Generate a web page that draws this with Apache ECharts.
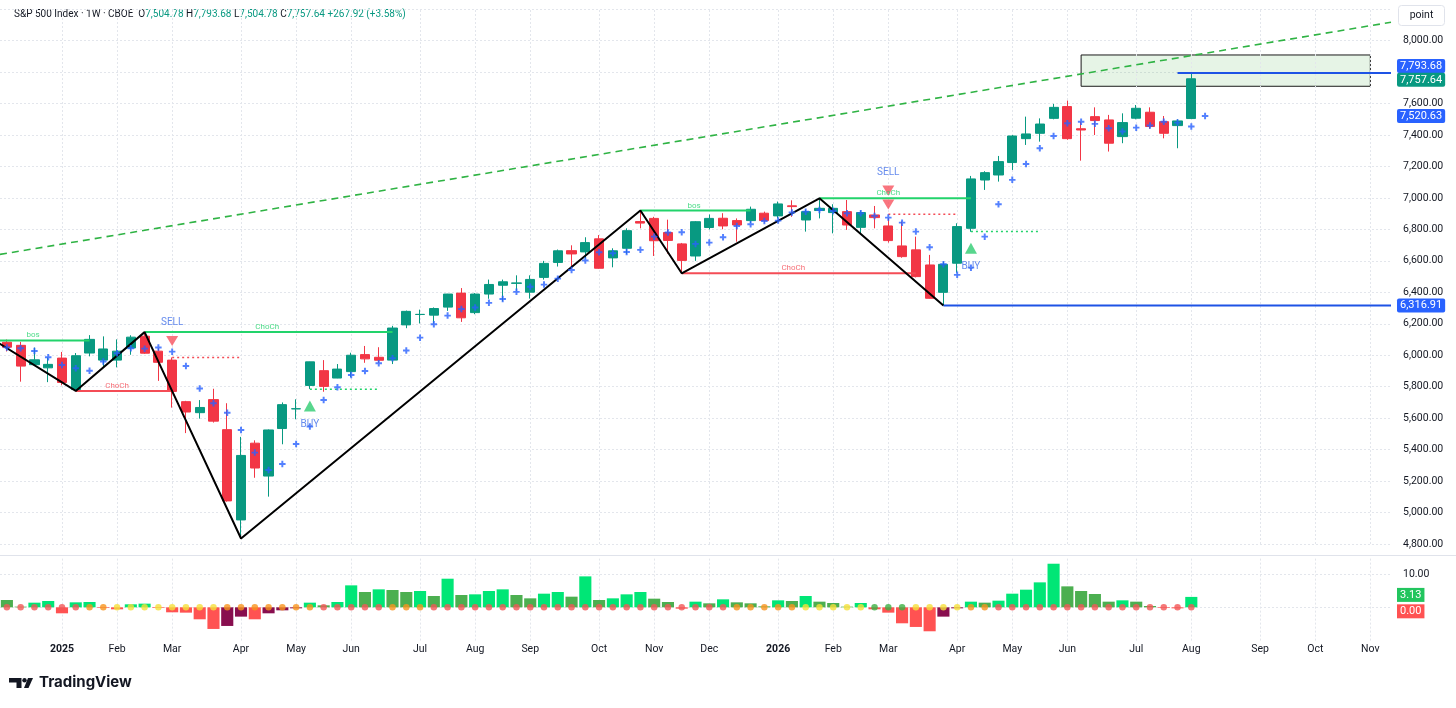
<!DOCTYPE html>
<html>
<head>
<meta charset="UTF-8">
<title>S&P 500 Index 1W</title>
<script src="https://cdn.jsdelivr.net/npm/echarts@6/dist/echarts.min.js"></script>
<style>
html, body { margin: 0; padding: 0; background: #fff; }
#chart { width: 1456px; height: 708px; }
</style>
</head>
<body>
<div id="chart"></div>
<script>
// weekly bars, first bar is the week of 2024-12-09
var firstWeek = Date.UTC(2024, 11, 9);
var weekCount = 101;

var opens = [6083,6063,5940,5920,5982,5782,6014,5969,5969,6046,
  6121,6026,5969,5705,5635,5718,5527,4953,5441,5232,
  5534,5659,5808,5902,5855,5896,6004,5987,5969,6193,
  6259,6255,6306,6395,6271,6389,6445,6457,6401,6495,
  6590,6665,6657,6740,6619,6680,6850,6870,6780,6708,
  6631,6812,6871,6856,6856,6903,6886,6950,6860,6920,
  6907,6913,6813,6892,6822,6695,6670,6574,6400,6585,
  6807,7114,7146,7225,7377,7411,7506,7581,7440,7517,
  7496,7390,7507,7545,7485,7460,7504.78];
var highs = [6100,6085,6049,5986,6021,6014,6128,6120,6101,6127,
  6147,6044,5986,5710,5715,5787,5695,5481,5459,5528,
  5700,5720,5959,5969,5944,6016,6059,6051,6187,6284,
  6290,6304,6390,6427,6395,6481,6481,6508,6508,6600,
  6672,6699,6750,6764,6680,6807,6920,6880,6862,6714,
  6853,6895,6903,6870,6945,6913,6977,6985,6925,6998,
  6960,6987,6920,6949,6871,6850,6754,6638,6595,6839,
  7140,7170,7267,7400,7517,7506,7598,7619,7485,7576,
  7528,7538,7591,7576,7521,7500,7793.68];
var lows = [6024,5832,5933,5829,5809,5773,5993,5923,5923,6003,
  6009,5837,5667,5505,5597,5572,5069,4835,5221,5101,
  5434,5593,5786,5768,5854,5861,5952,5952,5944,6172,
  6202,6202,6282,6212,6261,6359,6343,6410,6360,6481,
  6564,6551,6616,6550,6559,6644,6807,6631,6646,6521,
  6600,6800,6801,6722,6840,6843,6870,6880,6786,6870,
  6775,6797,6775,6807,6716,6620,6495,6360,6316.91,6525,
  6785,7051,7104,7178,7337,7358,7500,7370,7237,7400,
  7295,7348,7500,7440,7379,7316,7504.78];
var closes = [6051,5931,5971,5942,5827,5997,6101,6040,6026,6115,
  6013,5955,5770,5639,5668,5581,5074,5363,5283,5525,
  5686,5660,5958,5802,5912,6000,5977,5968,6173,6279,
  6260,6297,6389,6238,6389,6450,6467,6460,6482,6584,
  6664,6644,6716,6553,6664,6792,6840,6728,6730,6603,
  6849,6870,6822,6828,6928,6856,6962,6945,6913,6934,
  6934,6828,6907,6875,6729,6627,6500,6362,6578,6818,
  7121,7161,7231,7394,7407,7470,7576,7377,7432,7492,
  7348,7479,7570,7454,7411,7489.72,7757.64];

// blue "+" trailing markers (one more than bars)
var plusMarks = [6050,6044,6027,5987,5938,5917,5902,5960,6013,6044,
  6042,6049,6023,5932,5788,5695,5635,5525,5381,5271,
  5309,5436,5547,5716,5797,5875,5900,5949,5981,6030,
  6112,6197,6252,6294,6303,6333,6358,6403,6436,6449,
  6487,6542,6602,6655,6648,6657,6670,6754,6780,6782,
  6708,6716,6750,6822,6833,6854,6856,6907,6913,6924,
  6917,6903,6903,6886,6875,6843,6786,6686,6578,6511,
  6557,6754,6960,7115,7216,7316,7394,7475,7485,7471,
  7443,7422,7447,7460,7485,7479,7454,7520.63];

// squeeze momentum histogram and squeeze state (0 none,1 low,2 mid,3 high)
var momentum = [2.2,0.2,1.4,1.9,-1.8,1.5,1.6,-0.2,-0.6,0.9,
  1.1,-0.2,-1.5,-1.6,-3.6,-6.5,-5.6,-2.8,-3.6,-1.8,
  -0.9,-0.3,1.4,0.6,1.6,6.6,4.6,5.4,5.2,4.6,
  4.9,3.4,8.6,3.7,3.9,4.9,5.4,3.7,2.7,4.1,
  4.6,3.2,9.3,2.2,2.7,3.9,4.6,2.6,1.6,-0.4,
  1.7,1.2,2.4,1.5,1.2,0.3,2.1,1.9,3.4,1.7,
  1.3,0.2,1.3,-0.6,-1.6,-4.8,-5.9,-7.2,-2.8,-0.3,
  1.7,1.4,2.0,4.1,5.3,7.5,13.1,6.3,4.9,4.0,
  1.7,2.1,1.7,0.4,-0.2,-0.3,3.13];
var squeeze = [3,3,3,3,3,3,2,2,1,1,
  1,1,1,1,1,1,2,2,2,2,
  2,2,2,3,3,3,3,3,2,2,
  2,3,3,3,3,3,3,3,3,3,
  3,3,3,3,3,3,3,3,3,3,
  3,3,3,2,2,2,2,2,1,1,
  1,1,1,0,0,0,1,1,1,1,
  2,2,3,3,3,3,3,3,3,3,
  3,3,3,3,3,3,3];

// zigzag pivots [bar, price]
var zigzag = [[-1,6100],[5,5773],[10,6147],[17,4835],[46,6920],[49,6521],[59,6998],[68,6316.91]];
// structure lines [fromBar, toBar, price]
var bosLines = [[-0.5,6,6094],[46,54,6920]];
var chochUp = [[10,28,6147],[59,70,6998]];
var chochDown = [[5,12,5773],[49,66,6521]];
var sellStops = [[12,17,5985],[64,69,6896]];
var buyStops = [[22,27,5784],[70,75,6786]];
var levelLines = [[68,6316.91],[85,7793.68]];
var greenTags = [['bos',1.9,6094],['ChoCh',18.9,6147],['bos',49.9,6920],['ChoCh',64,6998]];
var redTags = [['ChoCh',8,5773],['ChoCh',57.1,6521]];
var sellMarks = [[12,6091],[64,7048],[64,6959]];
var sellText = [[12,6091],[64,7048]];
var buyMarks = [[22,5678],[70,6680]];
var trendLine = [[-0.5,6641],[100.5,8117]];
var targetBox = [78,99,7909,7710];

var monthTicks = [[4,'2025'],[8,'Feb'],[12,'Mar'],[17,'Apr'],[21,'May'],[25,'Jun'],[30,'Jul'],
  [34,'Aug'],[38,'Sep'],[43,'Oct'],[47,'Nov'],[51,'Dec'],[56,'2026'],[60,'Feb'],[64,'Mar'],
  [69,'Apr'],[73,'May'],[77,'Jun'],[82,'Jul'],[86,'Aug'],[91,'Sep'],[95,'Oct'],[99,'Nov']];

var categories = [];
for (var i = 0; i < weekCount; i++) {
  categories.push(new Date(firstWeek + i * 7 * 86400000).toISOString().slice(0, 10));
}
var tickMap = {};
monthTicks.forEach(function (t) { tickMap[t[0]] = t[1]; });

var FONT = 'Roboto, sans-serif';
var TEXT = '#131722';
var UP = '#089981', DOWN = '#f23645';
var LIME = '#22d36b', RED = '#f44c56', BLUE = '#2962ff';

function fmt(v) {
  return v.toLocaleString('en-US', { minimumFractionDigits: 2, maximumFractionDigits: 2 });
}

var candles = opens.map(function (o, i) { return [o, closes[i], lows[i], highs[i]]; });

var momColors = momentum.map(function (v, i) {
  var prev = i === 0 ? v : momentum[i - 1];
  if (v >= 0) return v > prev ? '#00e676' : '#4caf50';
  return v < prev ? '#ff5252' : '#880e4f';
});
var dotPalette = ['#3cb043', '#f5e03a', '#f7941d', '#f25656'];

var series = [];

// month grid lines
[[1, 0], [3, 1]].forEach(function (ax) {
  series.push({
    type: 'line', xAxisIndex: ax[0], yAxisIndex: ax[1], data: [], silent: true, z: 0,
    markLine: {
      silent: true, symbol: ['none', 'none'], label: { show: false },
      lineStyle: { color: '#e3e6ec', type: [2, 2], width: 1 },
      data: monthTicks.map(function (t) { return { xAxis: t[0] }; })
    }
  });
});

series.push({
  type: 'line', xAxisIndex: 1, yAxisIndex: 0, data: [], silent: true, z: 1,
  markArea: {
    silent: true,
    itemStyle: { color: 'rgba(76,175,80,0.14)', borderColor: '#1b1b1b', borderWidth: 1 },
    data: [[{ xAxis: targetBox[0], yAxis: targetBox[2] }, { xAxis: targetBox[1], yAxis: targetBox[3] }]]
  }
});

series.push({
  type: 'line', xAxisIndex: 1, yAxisIndex: 0, data: trendLine, symbol: 'none', silent: true,
  lineStyle: { color: '#2fb344', width: 1.6, type: [7, 5] }, z: 8
});

series.push({
  type: 'candlestick', xAxisIndex: 0, yAxisIndex: 0, data: candles, barWidth: '70%', z: 10,
  itemStyle: { color: UP, color0: DOWN, borderColor: UP, borderColor0: DOWN, borderWidth: 1 }
});

function seg(s, color, type, width) {
  series.push({
    type: 'line', xAxisIndex: 1, yAxisIndex: 0, symbol: 'none', silent: true, z: 11,
    data: [[s[0], s[2]], [s[1], s[2]]],
    lineStyle: { color: color, width: width, type: type }
  });
}
bosLines.forEach(function (s) { seg(s, LIME, 'solid', 2); });
chochUp.forEach(function (s) { seg(s, LIME, 'solid', 2); });
chochDown.forEach(function (s) { seg(s, RED, 'solid', 2); });
sellStops.forEach(function (s) { seg(s, RED, [2, 3], 1.5); });
buyStops.forEach(function (s) { seg(s, LIME, [2, 3], 1.5); });
levelLines.forEach(function (l) { seg([l[0], 100.5, l[1]], '#1e53e5', 'solid', 2); });

series.push({
  type: 'line', xAxisIndex: 1, yAxisIndex: 0, data: zigzag, symbol: 'none', silent: true, z: 12,
  lineStyle: { color: '#000', width: 2 }
});

series.push({
  type: 'scatter', xAxisIndex: 1, yAxisIndex: 0, z: 13, silent: true,
  data: plusMarks.map(function (v, i) { return [i, v]; }),
  symbol: 'path://M3.5,0H6.5V3.5H10V6.5H6.5V10H3.5V6.5H0V3.5H3.5Z', symbolSize: 6.5,
  itemStyle: { color: BLUE }
});

function tags(list, color) {
  series.push({
    type: 'scatter', xAxisIndex: 1, yAxisIndex: 0, symbolSize: 0, silent: true, z: 14,
    data: list.map(function (t) { return { value: [t[1], t[2]], name: t[0] }; }),
    label: { show: true, position: 'top', distance: 1, formatter: '{b}', color: color, fontSize: 8, fontFamily: FONT }
  });
}
tags(greenTags, LIME);
tags(redTags, RED);

series.push({
  type: 'scatter', xAxisIndex: 1, yAxisIndex: 0, data: sellMarks, silent: true, z: 14,
  symbol: 'triangle', symbolRotate: 180, symbolSize: [12, 10], itemStyle: { color: '#f7525f' }
});
series.push({
  type: 'scatter', xAxisIndex: 1, yAxisIndex: 0, data: sellText, symbolSize: 0, silent: true, z: 14,
  label: { show: true, position: 'top', distance: 13, formatter: 'SELL', color: '#3f6ee8', fontSize: 10, fontFamily: FONT }
});
series.push({
  type: 'scatter', xAxisIndex: 1, yAxisIndex: 0, data: buyMarks, silent: true, z: 14,
  symbol: 'triangle', symbolSize: [12, 11], itemStyle: { color: '#2ecc71' },
  label: { show: true, position: 'bottom', distance: 8, formatter: 'BUY', color: '#3f6ee8', fontSize: 10, fontFamily: FONT }
});

function badge(value, bg, dy) {
  return {
    yAxis: value,
    label: {
      show: true, position: 'end', distance: 6, formatter: fmt(value), offset: [0, dy],
      color: '#fff', backgroundColor: bg, padding: [2, 3, 1, 3], borderRadius: 2,
      fontSize: 11, fontFamily: FONT
    }
  };
}
series.push({
  type: 'line', xAxisIndex: 1, yAxisIndex: 0, data: [], clip: false, silent: true, z: 15,
  markLine: {
    silent: true, symbol: ['none', 'none'], lineStyle: { color: 'rgba(0,0,0,0)', width: 0 },
    data: [badge(highs[86], BLUE, -7), badge(closes[86], UP, 1),
      badge(plusMarks[87], BLUE, 0), badge(lows[68], BLUE, 0)]
  }
});

// momentum pane
series.push({
  type: 'bar', xAxisIndex: 2, yAxisIndex: 1, barWidth: '88%', silent: true, z: 7,
  data: momentum.map(function (v, i) { return { value: v, itemStyle: { color: momColors[i] } }; })
});
series.push({
  type: 'scatter', xAxisIndex: 2, yAxisIndex: 1, symbolSize: 6.5, silent: true, z: 8,
  data: squeeze.map(function (s) { return { value: 0, itemStyle: { color: dotPalette[s] } }; })
});
series.push({
  type: 'line', xAxisIndex: 3, yAxisIndex: 1, data: [], clip: false, silent: true, z: 15,
  markLine: {
    silent: true, symbol: ['none', 'none'], lineStyle: { color: 'rgba(0,0,0,0)', width: 0 },
    data: [
      { yAxis: momentum[86], label: { show: true, position: 'end', distance: 6, offset: [0, -2], formatter: fmt(momentum[86]),
        color: '#fff', backgroundColor: '#22c55e', padding: [2, 3, 1, 3], fontSize: 11, fontFamily: FONT } },
      { yAxis: 0, label: { show: true, position: 'end', distance: 6, offset: [0, 4], formatter: fmt(0),
        color: '#fff', backgroundColor: '#ff5252', padding: [2, 3, 1, 3], fontSize: 11, fontFamily: FONT } }
    ]
  }
});

var last = opens.length - 1;
var chg = closes[last] - closes[last - 1];
var pct = chg / closes[last - 1] * 100;
var headerText = '{t|S&P 500 Index \u00b7 1W \u00b7 CBOE}  ' +
  '{k|O}{v|' + fmt(opens[last]) + '} {k|H}{v|' + fmt(highs[last]) + '} ' +
  '{k|L}{v|' + fmt(lows[last]) + '} {k|C}{v|' + fmt(closes[last]) + '} ' +
  '{v|' + (chg >= 0 ? '+' : '') + fmt(chg) + ' (' + (chg >= 0 ? '+' : '') + pct.toFixed(2) + '%)}';

var option = {
  animation: false,
  backgroundColor: '#fff',
  grid: [
    { left: 0, width: 1391, top: 9.2, height: 534.8 },
    { left: 0, width: 1391, top: 557.4, height: 83.2 }
  ],
  xAxis: [
    { type: 'category', gridIndex: 0, data: categories, boundaryGap: true, show: false },
    { type: 'value', gridIndex: 0, min: -0.5, max: 100.5, show: false },
    {
      type: 'category', gridIndex: 1, data: categories, boundaryGap: true,
      axisLine: { show: false }, axisTick: { show: false }, splitLine: { show: false },
      axisLabel: {
        margin: 3, color: TEXT, fontSize: 10.5, fontFamily: FONT,
        interval: function (idx) { return tickMap[idx] !== undefined; },
        formatter: function (v, idx) {
          var t = tickMap[idx];
          if (t === undefined) return '';
          return /^\d{4}$/.test(t) ? '{b|' + t + '}' : t;
        },
        rich: { b: { fontWeight: 'bold', fontSize: 10.5, color: TEXT, fontFamily: FONT } }
      }
    },
    { type: 'value', gridIndex: 1, min: -0.5, max: 100.5, show: false }
  ],
  yAxis: [
    {
      type: 'value', gridIndex: 0, position: 'right', min: 4800, max: 8200, interval: 200,
      axisLine: { show: false }, axisTick: { show: false },
      axisLabel: {
        margin: 12, color: TEXT, fontSize: 10.5, fontFamily: FONT,
        formatter: function (v) { return (v === 7800 || v === 8200) ? '' : fmt(v); }
      },
      splitLine: { lineStyle: { color: '#e3e6ec', type: [2, 2] } }
    },
    {
      type: 'value', gridIndex: 1, position: 'right', min: -10, max: 15, interval: 10,
      axisLine: { show: false }, axisTick: { show: false },
      axisLabel: {
        margin: 12, color: TEXT, fontSize: 10.5, fontFamily: FONT,
        formatter: function (v) { return v === 10 ? fmt(v) : ''; }
      },
      splitLine: { showMinLine: false, showMaxLine: false, lineStyle: { color: '#e3e6ec', type: [2, 2] } }
    }
  ],
  graphic: [
    { type: 'line', silent: true, shape: { x1: 0, y1: 555.5, x2: 1456, y2: 555.5 }, style: { stroke: '#e0e3eb', lineWidth: 1 } },
    {
      type: 'text', left: 14, top: 9, silent: true,
      style: {
        text: headerText, fontFamily: FONT, fontSize: 10,
        rich: {
          t: { fontSize: 10, fontFamily: FONT, fill: TEXT },
          k: { fontSize: 10, fontFamily: FONT, fill: TEXT },
          v: { fontSize: 10, fontFamily: FONT, fill: UP }
        }
      }
    },
    { type: 'rect', silent: true, shape: { x: 1398.5, y: 5.5, width: 46, height: 20, r: 3 }, style: { fill: '#fff', stroke: '#e0e3eb', lineWidth: 1 } },
    { type: 'text', silent: true, x: 1421.5, y: 15.5, style: { text: 'point', fontSize: 10.5, fontFamily: FONT, fill: TEXT, align: 'center', verticalAlign: 'middle' } },
    {
      type: 'group', left: 9, top: 678, silent: true,
      children: [
        { type: 'polygon', shape: { points: [[0, 0], [12.5, 0], [12.5, 10], [7.5, 10], [7.5, 4.5], [0, 4.5]] }, style: { fill: TEXT } },
        { type: 'circle', shape: { cx: 15.5, cy: 2.2, r: 2.2 }, style: { fill: TEXT } },
        { type: 'polygon', shape: { points: [[19, 0], [24, 0], [19.5, 10], [15, 10]] }, style: { fill: TEXT } }
      ]
    },
    { type: 'text', silent: true, left: 39, top: 675, style: { text: 'TradingView', fontSize: 15, fontWeight: 'bold', fontFamily: 'Inter, Roboto, sans-serif', fill: TEXT } }
  ],
  series: series
};

var chart = echarts.init(document.getElementById('chart'));
chart.setOption(option);
</script>
</body>
</html>
